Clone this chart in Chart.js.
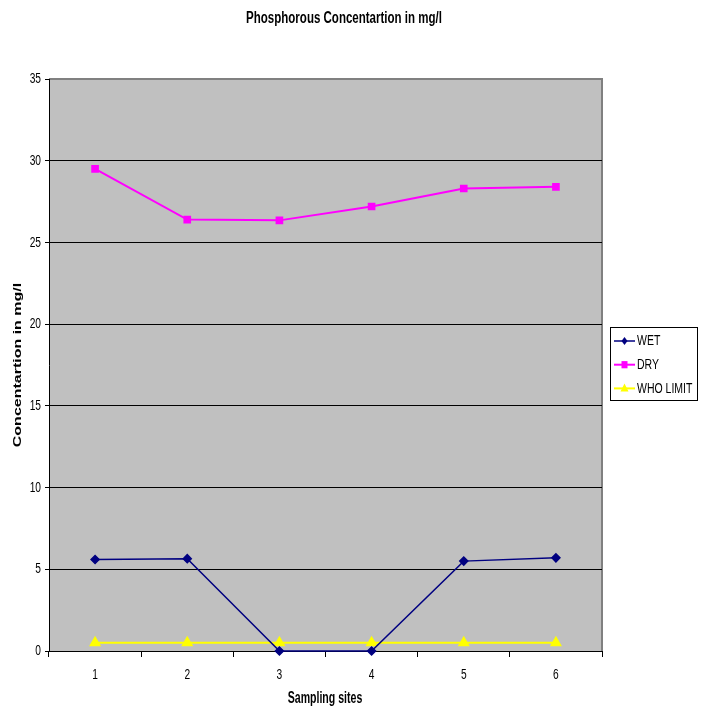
<!DOCTYPE html>
<html>
<head>
<meta charset="utf-8">
<script src="https://cdn.jsdelivr.net/npm/chart.js@4/dist/chart.umd.min.js"></script>
<style>
  html, body { margin: 0; padding: 0; background: #fff; }
  #wrap { width: 704px; height: 708px; }
</style>
</head>
<body>
<div id="wrap"><canvas id="phChart" width="704" height="708"></canvas></div>
<script>
var sites = ['1', '2', '3', '4', '5', '6'];
var wetValues = [5.6, 5.65, 0, 0, 5.5, 5.7];
var dryValues = [29.5, 26.4, 26.35, 27.2, 28.3, 28.4];
var whoLimit = [0.5, 0.5, 0.5, 0.5, 0.5, 0.5];
var yTicks = [0, 5, 10, 15, 20, 25, 30, 35];

var chartTitle = 'Phosphorous Concentartion in mg/l';
var xTitle = 'Sampling sites';
var yTitle = 'Concentartion in mg/l';

var FONT = "'Liberation Sans', Arial, sans-serif";

// text squeezed sideways, like the old narrow office fonts
function squeezed(ctx, text, x, y, font, align, sx, rotate) {
    ctx.save();
    ctx.translate(x, y);
    ctx.scale(sx, 1);
    if (rotate) ctx.rotate(-Math.PI / 2);
    ctx.font = font;
    ctx.textAlign = align;
    ctx.textBaseline = 'middle';
    ctx.fillStyle = '#000';
    ctx.fillText(text, 0, 0);
    ctx.restore();
}

function drawMarker(ctx, style, r, x, y) {
    ctx.beginPath();
    if (style === 'rectRot') {
        ctx.moveTo(x, y - r); ctx.lineTo(x + r * 0.75, y); ctx.lineTo(x, y + r); ctx.lineTo(x - r * 0.75, y);
    } else if (style === 'rect') {
        ctx.rect(x - r * 0.75, y - r * 0.9, r * 1.5, r * 1.8);
    } else {
        ctx.moveTo(x, y - r); ctx.lineTo(x + r * 0.8, y + r * 0.6); ctx.lineTo(x - r * 0.8, y + r * 0.6);
    }
    ctx.closePath();
    ctx.fill();
}

// grey plot area with the darker frame on top and right
var plotArea = {
    id: 'plotArea',
    beforeDraw: function(chart) {
        var a = chart.chartArea, ctx = chart.ctx;
        ctx.save();
        ctx.fillStyle = '#C0C0C0';
        ctx.fillRect(a.left, a.top, a.right - a.left, a.bottom - a.top);
        ctx.strokeStyle = '#808080';
        ctx.lineWidth = 2;
        ctx.beginPath();
        ctx.moveTo(a.left, a.top);
        ctx.lineTo(a.right, a.top);
        ctx.lineTo(a.right, a.bottom);
        ctx.stroke();
        ctx.restore();
    }
};

// titles, tick labels and the boxed legend
var textLayer = {
    id: 'textLayer',
    afterDraw: function(chart) {
        var ctx = chart.ctx;
        var xs = chart.scales.x, ys = chart.scales.y;

        squeezed(ctx, chartTitle, 344, 19, 'bold 16px ' + FONT, 'center', 0.72);

        yTicks.forEach(function(v) {
            squeezed(ctx, String(v), 41, ys.getPixelForValue(v), '15px ' + FONT, 'right', 0.68);
        });
        sites.forEach(function(s, i) {
            squeezed(ctx, s, xs.getPixelForValue(i), 675, '15px ' + FONT, 'center', 0.68);
        });

        squeezed(ctx, xTitle, 325, 699, 'bold 16px ' + FONT, 'center', 0.66);
        squeezed(ctx, yTitle, 18, 365, 'bold 16px ' + FONT, 'center', 0.7, true);

        ctx.save();
        ctx.fillStyle = '#fff';
        ctx.fillRect(610.5, 327.5, 87, 73);
        ctx.strokeStyle = '#000';
        ctx.lineWidth = 1;
        ctx.strokeRect(610.5, 327.5, 87, 73);
        chart.data.datasets.forEach(function(ds, i) {
            var y = 341 + i * 23.7;
            ctx.strokeStyle = ds.borderColor;
            ctx.lineWidth = ds.borderWidth;
            ctx.beginPath();
            ctx.moveTo(614, y);
            ctx.lineTo(635, y);
            ctx.stroke();
            ctx.fillStyle = ds.borderColor;
            drawMarker(ctx, ds.pointStyle, ds.pointRadius, 624.5, y);
        });
        ctx.restore();
        chart.data.datasets.forEach(function(ds, i) {
            squeezed(ctx, ds.label, 637, 341 + i * 23.7, '15px ' + FONT, 'left', 0.7);
        });
    }
};

var ctx = document.getElementById('phChart').getContext('2d');
var myChart = new Chart(ctx, {
    type: 'line',
    data: {
        labels: sites,
        datasets: [{
            label: 'WET',
            data: wetValues,
            borderColor: '#000080',
            backgroundColor: '#000080',
            borderWidth: 1.5,
            pointStyle: 'rectRot',
            pointRadius: 4,
            clip: 6
        }, {
            label: 'DRY',
            data: dryValues,
            borderColor: '#FF00FF',
            backgroundColor: '#FF00FF',
            borderWidth: 2,
            pointStyle: 'rect',
            pointRadius: 4,
            clip: 6
        }, {
            label: 'WHO LIMIT',
            data: whoLimit,
            borderColor: '#FFFF00',
            backgroundColor: '#FFFF00',
            borderWidth: 2,
            pointStyle: 'triangle',
            pointRadius: 5,
            clip: 6
        }]
    },
    options: {
        responsive: false,
        animation: false,
        layout: { padding: { left: 0, top: 79, right: 102, bottom: 0 } },
        elements: { line: { tension: 0 } },
        plugins: {
            legend: { display: false },
            tooltip: { enabled: false }
        },
        scales: {
            x: {
                offset: true,
                grid: { offset: true, drawOnChartArea: false, drawTicks: true, tickLength: 6, color: '#000' },
                border: { color: '#000', width: 1 },
                ticks: { display: false },
                afterFit: function(scale) { scale.height = 57; }
            },
            y: {
                min: 0,
                max: 35,
                afterBuildTicks: function(scale) {
                    scale.ticks = yTicks.map(function(v) { return { value: v }; });
                },
                grid: {
                    color: function(c) { return c.tick && c.tick.value === 35 ? '#808080' : '#000'; },
                    lineWidth: 1,
                    tickLength: 4,
                    tickColor: '#000'
                },
                border: { color: '#000', width: 1 },
                ticks: { display: false },
                afterFit: function(scale) { scale.width = 49; }
            }
        }
    },
    plugins: [plotArea, textLayer]
});
</script>
</body>
</html>
